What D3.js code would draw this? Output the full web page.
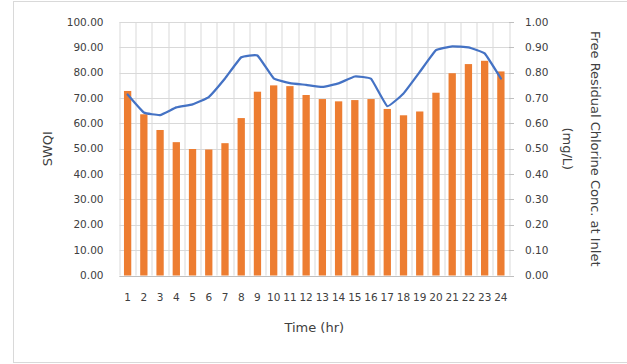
<!DOCTYPE html>
<html>
<head>
<meta charset="utf-8">
<script src="https://cdn.jsdelivr.net/npm/d3@7"></script>
<style>
	body { margin: 0; background: #fff; }
	text { font-family: "DejaVu Sans", sans-serif; fill: #404040; }
</style>
</head>
<body>
<div class="chart"></div>
<script>
// hours 1..24
const hours = ['1', '2', '3', '4', '5', '6', '7', '8', '9', '10', '11', '12',
	'13', '14', '15', '16', '17', '18', '19', '20', '21', '22', '23', '24'];

// SWQI (bars, left axis)
const swqi = [72.8, 63.6, 57.4, 52.6, 49.9, 49.7, 52.2, 62.1, 72.5, 75.0, 74.7, 71.2,
	69.6, 68.7, 69.2, 69.6, 65.7, 63.2, 64.7, 72.1, 79.8, 83.4, 84.7, 80.5];

// free residual chlorine at inlet, mg/L (line, right axis)
const chlorine = [0.714, 0.643, 0.633, 0.663, 0.675, 0.704, 0.777, 0.861, 0.868, 0.778, 0.759, 0.752,
	0.744, 0.758, 0.785, 0.776, 0.668, 0.718, 0.803, 0.889, 0.904, 0.900, 0.876, 0.777];

const leftTicks = [0, 10, 20, 30, 40, 50, 60, 70, 80, 90, 100];
const rightTicks = [0, 0.1, 0.2, 0.3, 0.4, 0.5, 0.6, 0.7, 0.8, 0.9, 1.0];

const outerW = 627,
	outerH = 364;

const margin = { left: 119.5, right: 118, top: 22, bottom: 88.5 };
const w = outerW - margin.left - margin.right,
	h = outerH - margin.top - margin.bottom;

const svg = d3.select('.chart').append('svg')
	.attr('width', outerW)
	.attr('height', outerH);

// outer frame
svg.append('rect')
	.attr('x', 13.5)
	.attr('y', 1.5)
	.attr('width', 640)
	.attr('height', 361)
	.attr('fill', 'none')
	.attr('stroke', '#d9d9d9');

const g = svg.append('g')
	.attr('transform', `translate(${margin.left}, ${margin.top})`);

const x = d3.scaleBand().domain(hours).range([0, w]);
const y = d3.scaleLinear().domain([0, 100]).range([h, 0]);
const y2 = d3.scaleLinear().domain([0, 1]).range([h, 0]);

// horizontal gridlines
g.append('g').selectAll('line')
	.data(leftTicks)
	.enter().append('line')
	.attr('x1', 0)
	.attr('x2', w)
	.attr('y1', d => Math.round(y(d)) + 0.5)
	.attr('y2', d => Math.round(y(d)) + 0.5)
	.attr('stroke', '#d9d9d9');

// vertical gridlines at category edges
const edges = hours.map(d => x(d)).concat([w]);
g.append('g').selectAll('line')
	.data(edges)
	.enter().append('line')
	.attr('x1', d => Math.round(d) + 0.5)
	.attr('x2', d => Math.round(d) + 0.5)
	.attr('y1', 0)
	.attr('y2', h)
	.attr('stroke', '#d9d9d9');

// right axis tick marks
g.append('g').selectAll('line')
	.data(rightTicks)
	.enter().append('line')
	.attr('x1', w)
	.attr('x2', w + 5)
	.attr('y1', d => Math.round(y2(d)) + 0.5)
	.attr('y2', d => Math.round(y2(d)) + 0.5)
	.attr('stroke', '#bfbfbf');

// bottom axis line
g.append('line')
	.attr('x1', 0)
	.attr('x2', w)
	.attr('y1', Math.round(h) + 0.5)
	.attr('y2', Math.round(h) + 0.5)
	.attr('stroke', '#bfbfbf');

// bars
const barW = x.bandwidth() * 0.45;
g.selectAll('.bar')
	.data(swqi)
	.enter().append('rect')
	.attr('class', 'bar')
	.attr('x', (d, i) => x(hours[i]) + (x.bandwidth() - barW) / 2)
	.attr('y', d => y(d))
	.attr('width', barW)
	.attr('height', d => h - y(d))
	.attr('fill', '#ed7d31');

// chlorine line, only lightly smoothed
const line = d3.line()
	.x((d, i) => x(hours[i]) + x.bandwidth() / 2)
	.y(d => y2(d))
	.curve(d3.curveCardinal.tension(0.7));

g.append('path')
	.datum(chlorine)
	.attr('d', line)
	.attr('fill', 'none')
	.attr('stroke', '#4472c4')
	.attr('stroke-width', 2.25)
	.attr('stroke-linejoin', 'round')
	.attr('stroke-linecap', 'round');

// left tick labels
g.append('g').selectAll('text')
	.data(leftTicks)
	.enter().append('text')
	.attr('x', -16)
	.attr('y', d => y(d))
	.attr('dy', '0.35em')
	.attr('text-anchor', 'end')
	.style('font-size', '10.5px')
	.text(d => d3.format('.2f')(d));

// right tick labels
g.append('g').selectAll('text')
	.data(rightTicks)
	.enter().append('text')
	.attr('x', w + 16)
	.attr('y', d => y2(d))
	.attr('dy', '0.35em')
	.attr('text-anchor', 'start')
	.style('font-size', '10.5px')
	.text(d => d3.format('.2f')(d));

// x labels
g.append('g').selectAll('text')
	.data(hours)
	.enter().append('text')
	.attr('x', d => x(d) + x.bandwidth() / 2)
	.attr('y', h + 22)
	.attr('dy', '0.35em')
	.attr('text-anchor', 'middle')
	.style('font-size', '10.5px')
	.text(d => d);

// axis titles
svg.append('text')
	.attr('x', margin.left + w / 2)
	.attr('y', 327)
	.attr('dy', '0.35em')
	.attr('text-anchor', 'middle')
	.style('font-size', '13px')
	.text('Time (hr)');

svg.append('text')
	.attr('transform', `translate(47, ${margin.top + h / 2}) rotate(-90)`)
	.attr('dy', '0.35em')
	.attr('text-anchor', 'middle')
	.style('font-size', '13px')
	.text('SWQI');

svg.append('text')
	.attr('transform', `translate(596, ${margin.top + h / 2}) rotate(90)`)
	.attr('dy', '0.35em')
	.attr('text-anchor', 'middle')
	.style('font-size', '13px')
	.text('Free Residual Chlorine Conc. at Inlet');

svg.append('text')
	.attr('transform', `translate(568, ${margin.top + h / 2}) rotate(90)`)
	.attr('dy', '0.35em')
	.attr('text-anchor', 'middle')
	.style('font-size', '13px')
	.text('(mg/L)');
</script>
</body>
</html>
